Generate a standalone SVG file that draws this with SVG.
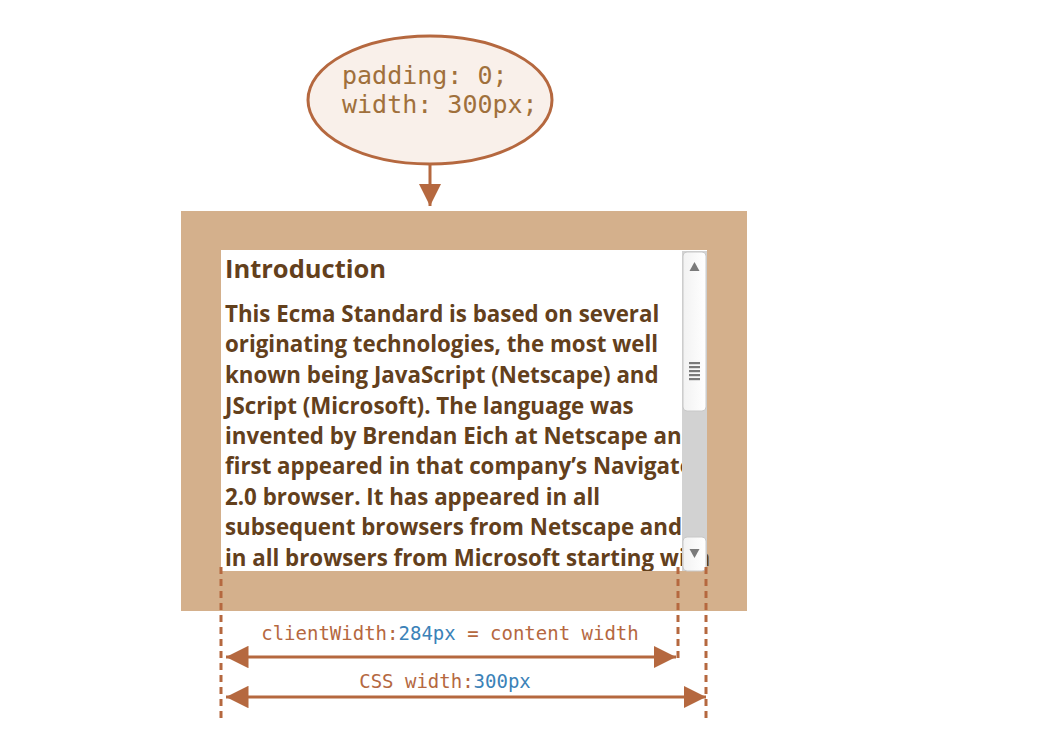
<svg xmlns="http://www.w3.org/2000/svg" width="1060" height="754" viewBox="0 0 1060 754">
  <style>
    .code { font-family: "DejaVu Sans Mono", "Liberation Mono", monospace; }
    .body { font-family: "Open Sans", "Liberation Sans", sans-serif; font-weight: bold; fill: #63401c; }
    .dash { stroke: #b5683f; stroke-width: 3; stroke-dasharray: 7 5; fill: none; }
    .conn { stroke: #b5683f; stroke-width: 3; fill: none; }
    .lbl { fill: #b5683f; }
    .num { fill: #3b82b8; }
  </style>
  <defs>
    <marker id="ah" viewBox="0 0 10 10" refX="10" refY="5" markerWidth="7.5" markerHeight="7.5" markerUnits="strokeWidth" orient="auto-start-reverse">
      <path d="M0,0 L10,5 L0,10 Z" fill="#b5683f"/>
    </marker>
    <linearGradient id="thumb" x1="0" y1="0" x2="1" y2="0">
      <stop offset="0" stop-color="#f2f2f2"/>
      <stop offset="1" stop-color="#ffffff"/>
    </linearGradient>
    <clipPath id="clip"><rect x="221" y="250" width="490" height="321"/></clipPath>
  </defs>

  <g id="style-node">
    <ellipse cx="430" cy="100" rx="122" ry="64" fill="#f9f0ea" stroke="#b5683f" stroke-width="3"/>
    <text class="code" x="342" y="84" font-size="25" fill="#a0703c">padding: 0;</text>
    <text class="code" x="342" y="113" font-size="25" fill="#a0703c">width: 300px;</text>
  </g>

  <g id="element-box">
    <rect x="181" y="211" width="566" height="400" fill="#d4b08c"/>
    <rect x="221" y="250" width="486" height="321" fill="#ffffff"/>
    <g clip-path="url(#clip)">
      <text class="body" x="225" y="278" font-size="25.5">Introduction</text>
      <text class="body" font-size="22.3">
        <tspan x="225" y="322">This Ecma Standard is based on several</tspan>
        <tspan x="225" y="352">originating technologies, the most well</tspan>
        <tspan x="225" y="383">known being JavaScript (Netscape) and</tspan>
        <tspan x="225" y="414">JScript (Microsoft). The language was</tspan>
        <tspan x="225" y="444">invented by Brendan Eich at Netscape and</tspan>
        <tspan x="225" y="474">first appeared in that company’s Navigator</tspan>
        <tspan x="225" y="505">2.0 browser. It has appeared in all</tspan>
        <tspan x="225" y="535">subsequent browsers from Netscape and</tspan>
        <tspan x="225" y="566">in all browsers from Microsoft starting with</tspan>
      </text>
    </g>
    <g id="scrollbar">
      <rect x="682" y="251" width="25" height="320" fill="#d2d2d2"/>
      <rect x="683" y="252" width="23" height="159" rx="4" fill="url(#thumb)" stroke="#c8c8c8" stroke-width="1"/>
      <path d="M689.5,271 L694.5,262 L699.5,271 Z" fill="#7a7a7a"/>
      <g fill="#7a7a7a">
        <rect x="689" y="362" width="11" height="2.2"/>
        <rect x="689" y="366" width="11" height="2.2"/>
        <rect x="689" y="370" width="11" height="2.2"/>
        <rect x="689" y="374" width="11" height="2.2"/>
        <rect x="689" y="378" width="11" height="2.2"/>
      </g>
      <rect x="683" y="537" width="23" height="34" rx="4" fill="url(#thumb)" stroke="#c8c8c8" stroke-width="1"/>
      <path d="M689.5,549 L699.5,549 L694.5,558 Z" fill="#7a7a7a"/>
    </g>
  </g>

  <g id="labels">
    <text class="code" x="450" y="640" font-size="19" text-anchor="middle"><tspan class="lbl">clientWidth:</tspan><tspan class="num">284px</tspan><tspan class="lbl"> = content width</tspan></text>
    <text class="code" x="445" y="688" font-size="19" text-anchor="middle"><tspan class="lbl">CSS width:</tspan><tspan class="num">300px</tspan></text>
  </g>

  <g id="connectors">
    <line class="conn" x1="430" y1="165" x2="430" y2="206" marker-end="url(#ah)"/>
    <line class="dash" x1="221" y1="567" x2="221" y2="718"/>
    <line class="dash" x1="678" y1="567" x2="678" y2="662"/>
    <line class="dash" x1="706" y1="567" x2="706" y2="718"/>
    <line class="conn" x1="226" y1="657" x2="676" y2="657" marker-start="url(#ah)" marker-end="url(#ah)"/>
    <line class="conn" x1="226" y1="697" x2="706" y2="697" marker-start="url(#ah)" marker-end="url(#ah)"/>
  </g>
</svg>
